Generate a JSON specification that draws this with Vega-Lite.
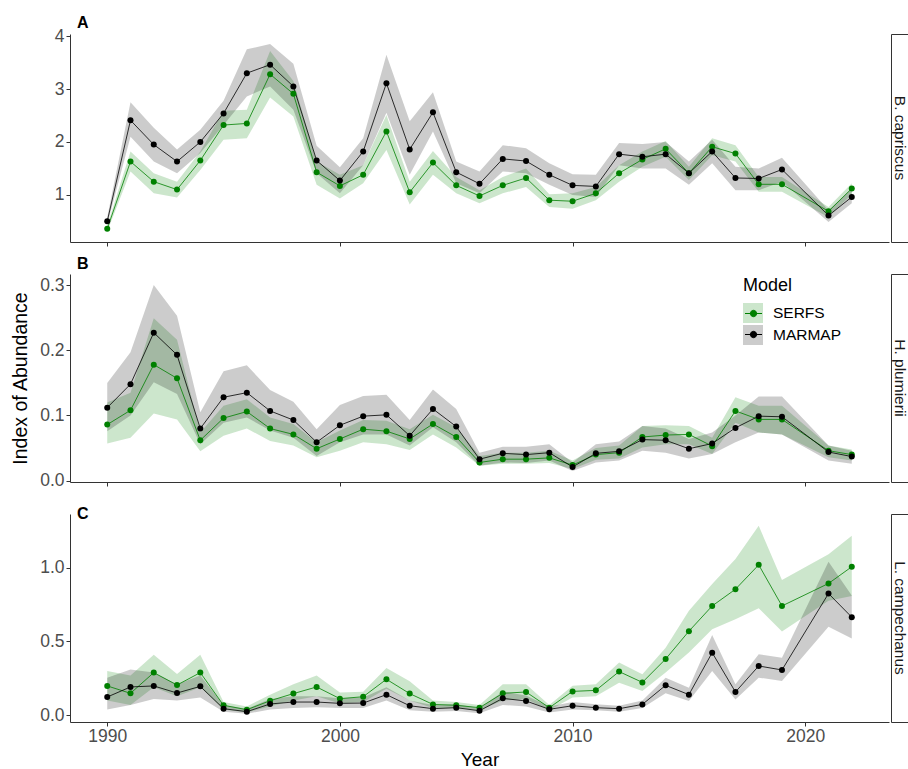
{
  "$schema": "https://vega.github.io/schema/vega-lite/v6.json",
  "background": "white",
  "padding": {"left": 10, "top": 15, "right": 0, "bottom": 0},
  "config": {
    "font": "Liberation Sans",
    "view": {"stroke": null},
    "axis": {
      "grid": false,
      "domainColor": "#333333",
      "tickColor": "#333333",
      "tickSize": 4,
      "labelFontSize": 17.5,
      "labelColor": "#4d4d4d",
      "labelPadding": 2,
      "titleFontSize": 19.5,
      "titleFontWeight": "normal",
      "titleColor": "#000000"
    },
    "title": {"anchor": "start", "frame": "group", "fontSize": 16, "fontWeight": "bold", "color": "#000000", "offset": 4, "dx": 7},
    "legend": {"labelFontSize": 15.5, "labelColor": "#000000", "titleFontSize": 18, "titleFontWeight": "normal", "titleColor": "#000000"}
  },
  "datasets": {
    "idx": [
      {"p":"A","yr":1990,"m":"SERFS","v":0.36,"lo":0.31,"hi":0.42},
      {"p":"A","yr":1991,"m":"SERFS","v":1.63,"lo":1.44,"hi":1.82},
      {"p":"A","yr":1992,"m":"SERFS","v":1.25,"lo":1.03,"hi":1.41},
      {"p":"A","yr":1993,"m":"SERFS","v":1.10,"lo":0.95,"hi":1.25},
      {"p":"A","yr":1994,"m":"SERFS","v":1.65,"lo":1.47,"hi":1.82},
      {"p":"A","yr":1995,"m":"SERFS","v":2.32,"lo":2.04,"hi":2.59},
      {"p":"A","yr":1996,"m":"SERFS","v":2.35,"lo":2.07,"hi":2.61},
      {"p":"A","yr":1997,"m":"SERFS","v":3.28,"lo":2.84,"hi":3.72},
      {"p":"A","yr":1998,"m":"SERFS","v":2.91,"lo":2.48,"hi":3.15},
      {"p":"A","yr":1999,"m":"SERFS","v":1.43,"lo":1.19,"hi":1.63},
      {"p":"A","yr":2000,"m":"SERFS","v":1.17,"lo":0.93,"hi":1.38},
      {"p":"A","yr":2001,"m":"SERFS","v":1.38,"lo":1.22,"hi":1.56},
      {"p":"A","yr":2002,"m":"SERFS","v":2.20,"lo":1.85,"hi":2.51},
      {"p":"A","yr":2003,"m":"SERFS","v":1.05,"lo":0.82,"hi":1.25},
      {"p":"A","yr":2004,"m":"SERFS","v":1.61,"lo":1.38,"hi":1.83},
      {"p":"A","yr":2005,"m":"SERFS","v":1.18,"lo":1.03,"hi":1.34},
      {"p":"A","yr":2006,"m":"SERFS","v":0.98,"lo":0.84,"hi":1.09},
      {"p":"A","yr":2007,"m":"SERFS","v":1.18,"lo":1.03,"hi":1.34},
      {"p":"A","yr":2008,"m":"SERFS","v":1.32,"lo":1.15,"hi":1.50},
      {"p":"A","yr":2009,"m":"SERFS","v":0.90,"lo":0.77,"hi":1.01},
      {"p":"A","yr":2010,"m":"SERFS","v":0.88,"lo":0.74,"hi":1.03},
      {"p":"A","yr":2011,"m":"SERFS","v":1.03,"lo":0.90,"hi":1.15},
      {"p":"A","yr":2012,"m":"SERFS","v":1.41,"lo":1.25,"hi":1.56},
      {"p":"A","yr":2013,"m":"SERFS","v":1.67,"lo":1.53,"hi":1.82},
      {"p":"A","yr":2014,"m":"SERFS","v":1.87,"lo":1.72,"hi":2.02},
      {"p":"A","yr":2015,"m":"SERFS","v":1.41,"lo":1.28,"hi":1.53},
      {"p":"A","yr":2016,"m":"SERFS","v":1.91,"lo":1.75,"hi":2.07},
      {"p":"A","yr":2017,"m":"SERFS","v":1.78,"lo":1.63,"hi":1.94},
      {"p":"A","yr":2018,"m":"SERFS","v":1.20,"lo":1.06,"hi":1.34},
      {"p":"A","yr":2019,"m":"SERFS","v":1.20,"lo":1.06,"hi":1.34},
      {"p":"A","yr":2021,"m":"SERFS","v":0.69,"lo":0.58,"hi":0.77},
      {"p":"A","yr":2022,"m":"SERFS","v":1.12,"lo":1.01,"hi":1.22},
      {"p":"A","yr":1990,"m":"MARMAP","v":0.50,"lo":0.44,"hi":0.58},
      {"p":"A","yr":1991,"m":"MARMAP","v":2.41,"lo":2.10,"hi":2.75},
      {"p":"A","yr":1992,"m":"MARMAP","v":1.95,"lo":1.63,"hi":2.27},
      {"p":"A","yr":1993,"m":"MARMAP","v":1.63,"lo":1.41,"hi":1.86},
      {"p":"A","yr":1994,"m":"MARMAP","v":2.00,"lo":1.79,"hi":2.23},
      {"p":"A","yr":1995,"m":"MARMAP","v":2.54,"lo":2.32,"hi":2.78},
      {"p":"A","yr":1996,"m":"MARMAP","v":3.30,"lo":2.86,"hi":3.75},
      {"p":"A","yr":1997,"m":"MARMAP","v":3.46,"lo":3.05,"hi":3.85},
      {"p":"A","yr":1998,"m":"MARMAP","v":3.05,"lo":2.61,"hi":3.48},
      {"p":"A","yr":1999,"m":"MARMAP","v":1.65,"lo":1.41,"hi":1.93},
      {"p":"A","yr":2000,"m":"MARMAP","v":1.27,"lo":1.03,"hi":1.52},
      {"p":"A","yr":2001,"m":"MARMAP","v":1.82,"lo":1.56,"hi":2.07},
      {"p":"A","yr":2002,"m":"MARMAP","v":3.11,"lo":2.55,"hi":3.65},
      {"p":"A","yr":2003,"m":"MARMAP","v":1.86,"lo":1.38,"hi":2.39},
      {"p":"A","yr":2004,"m":"MARMAP","v":2.56,"lo":2.20,"hi":2.94},
      {"p":"A","yr":2005,"m":"MARMAP","v":1.43,"lo":1.22,"hi":1.63},
      {"p":"A","yr":2006,"m":"MARMAP","v":1.21,"lo":1.03,"hi":1.44},
      {"p":"A","yr":2007,"m":"MARMAP","v":1.68,"lo":1.44,"hi":1.94},
      {"p":"A","yr":2008,"m":"MARMAP","v":1.64,"lo":1.41,"hi":1.88},
      {"p":"A","yr":2009,"m":"MARMAP","v":1.38,"lo":1.19,"hi":1.60},
      {"p":"A","yr":2010,"m":"MARMAP","v":1.18,"lo":1.00,"hi":1.39},
      {"p":"A","yr":2011,"m":"MARMAP","v":1.16,"lo":0.96,"hi":1.38},
      {"p":"A","yr":2012,"m":"MARMAP","v":1.77,"lo":1.56,"hi":1.98},
      {"p":"A","yr":2013,"m":"MARMAP","v":1.72,"lo":1.50,"hi":1.96},
      {"p":"A","yr":2014,"m":"MARMAP","v":1.77,"lo":1.50,"hi":2.00},
      {"p":"A","yr":2015,"m":"MARMAP","v":1.41,"lo":1.19,"hi":1.63},
      {"p":"A","yr":2016,"m":"MARMAP","v":1.82,"lo":1.60,"hi":2.04},
      {"p":"A","yr":2017,"m":"MARMAP","v":1.32,"lo":1.09,"hi":1.53},
      {"p":"A","yr":2018,"m":"MARMAP","v":1.31,"lo":1.09,"hi":1.50},
      {"p":"A","yr":2019,"m":"MARMAP","v":1.48,"lo":1.25,"hi":1.70},
      {"p":"A","yr":2021,"m":"MARMAP","v":0.61,"lo":0.49,"hi":0.71},
      {"p":"A","yr":2022,"m":"MARMAP","v":0.96,"lo":0.84,"hi":1.12},
      {"p":"B","yr":1990,"m":"SERFS","v":0.086,"lo":0.057,"hi":0.120},
      {"p":"B","yr":1991,"m":"SERFS","v":0.108,"lo":0.066,"hi":0.135},
      {"p":"B","yr":1992,"m":"SERFS","v":0.178,"lo":0.103,"hi":0.249},
      {"p":"B","yr":1993,"m":"SERFS","v":0.157,"lo":0.094,"hi":0.216},
      {"p":"B","yr":1994,"m":"SERFS","v":0.062,"lo":0.045,"hi":0.074},
      {"p":"B","yr":1995,"m":"SERFS","v":0.096,"lo":0.069,"hi":0.115},
      {"p":"B","yr":1996,"m":"SERFS","v":0.106,"lo":0.080,"hi":0.125},
      {"p":"B","yr":1997,"m":"SERFS","v":0.080,"lo":0.061,"hi":0.097},
      {"p":"B","yr":1998,"m":"SERFS","v":0.071,"lo":0.054,"hi":0.087},
      {"p":"B","yr":1999,"m":"SERFS","v":0.049,"lo":0.036,"hi":0.059},
      {"p":"B","yr":2000,"m":"SERFS","v":0.064,"lo":0.046,"hi":0.077},
      {"p":"B","yr":2001,"m":"SERFS","v":0.079,"lo":0.059,"hi":0.093},
      {"p":"B","yr":2002,"m":"SERFS","v":0.076,"lo":0.056,"hi":0.092},
      {"p":"B","yr":2003,"m":"SERFS","v":0.064,"lo":0.047,"hi":0.079},
      {"p":"B","yr":2004,"m":"SERFS","v":0.087,"lo":0.071,"hi":0.101},
      {"p":"B","yr":2005,"m":"SERFS","v":0.067,"lo":0.051,"hi":0.082},
      {"p":"B","yr":2006,"m":"SERFS","v":0.028,"lo":0.023,"hi":0.038},
      {"p":"B","yr":2007,"m":"SERFS","v":0.033,"lo":0.026,"hi":0.043},
      {"p":"B","yr":2008,"m":"SERFS","v":0.033,"lo":0.026,"hi":0.043},
      {"p":"B","yr":2009,"m":"SERFS","v":0.035,"lo":0.027,"hi":0.046},
      {"p":"B","yr":2010,"m":"SERFS","v":0.024,"lo":0.018,"hi":0.031},
      {"p":"B","yr":2011,"m":"SERFS","v":0.040,"lo":0.032,"hi":0.050},
      {"p":"B","yr":2012,"m":"SERFS","v":0.043,"lo":0.034,"hi":0.054},
      {"p":"B","yr":2013,"m":"SERFS","v":0.067,"lo":0.051,"hi":0.084},
      {"p":"B","yr":2014,"m":"SERFS","v":0.070,"lo":0.056,"hi":0.085},
      {"p":"B","yr":2015,"m":"SERFS","v":0.071,"lo":0.056,"hi":0.084},
      {"p":"B","yr":2016,"m":"SERFS","v":0.053,"lo":0.041,"hi":0.066},
      {"p":"B","yr":2017,"m":"SERFS","v":0.107,"lo":0.089,"hi":0.128},
      {"p":"B","yr":2018,"m":"SERFS","v":0.094,"lo":0.074,"hi":0.115},
      {"p":"B","yr":2019,"m":"SERFS","v":0.094,"lo":0.071,"hi":0.115},
      {"p":"B","yr":2021,"m":"SERFS","v":0.046,"lo":0.036,"hi":0.054},
      {"p":"B","yr":2022,"m":"SERFS","v":0.040,"lo":0.031,"hi":0.048},
      {"p":"B","yr":1990,"m":"MARMAP","v":0.112,"lo":0.076,"hi":0.150},
      {"p":"B","yr":1991,"m":"MARMAP","v":0.148,"lo":0.100,"hi":0.197},
      {"p":"B","yr":1992,"m":"MARMAP","v":0.227,"lo":0.151,"hi":0.300},
      {"p":"B","yr":1993,"m":"MARMAP","v":0.193,"lo":0.133,"hi":0.253},
      {"p":"B","yr":1994,"m":"MARMAP","v":0.080,"lo":0.056,"hi":0.105},
      {"p":"B","yr":1995,"m":"MARMAP","v":0.128,"lo":0.089,"hi":0.168},
      {"p":"B","yr":1996,"m":"MARMAP","v":0.135,"lo":0.097,"hi":0.177},
      {"p":"B","yr":1997,"m":"MARMAP","v":0.107,"lo":0.077,"hi":0.139},
      {"p":"B","yr":1998,"m":"MARMAP","v":0.093,"lo":0.066,"hi":0.121},
      {"p":"B","yr":1999,"m":"MARMAP","v":0.059,"lo":0.038,"hi":0.079},
      {"p":"B","yr":2000,"m":"MARMAP","v":0.085,"lo":0.059,"hi":0.116},
      {"p":"B","yr":2001,"m":"MARMAP","v":0.099,"lo":0.071,"hi":0.130},
      {"p":"B","yr":2002,"m":"MARMAP","v":0.101,"lo":0.071,"hi":0.132},
      {"p":"B","yr":2003,"m":"MARMAP","v":0.069,"lo":0.054,"hi":0.093},
      {"p":"B","yr":2004,"m":"MARMAP","v":0.110,"lo":0.082,"hi":0.140},
      {"p":"B","yr":2005,"m":"MARMAP","v":0.083,"lo":0.059,"hi":0.110},
      {"p":"B","yr":2006,"m":"MARMAP","v":0.033,"lo":0.023,"hi":0.043},
      {"p":"B","yr":2007,"m":"MARMAP","v":0.042,"lo":0.028,"hi":0.052},
      {"p":"B","yr":2008,"m":"MARMAP","v":0.040,"lo":0.027,"hi":0.052},
      {"p":"B","yr":2009,"m":"MARMAP","v":0.043,"lo":0.031,"hi":0.056},
      {"p":"B","yr":2010,"m":"MARMAP","v":0.021,"lo":0.015,"hi":0.028},
      {"p":"B","yr":2011,"m":"MARMAP","v":0.042,"lo":0.028,"hi":0.056},
      {"p":"B","yr":2012,"m":"MARMAP","v":0.045,"lo":0.031,"hi":0.060},
      {"p":"B","yr":2013,"m":"MARMAP","v":0.063,"lo":0.046,"hi":0.084},
      {"p":"B","yr":2014,"m":"MARMAP","v":0.062,"lo":0.043,"hi":0.080},
      {"p":"B","yr":2015,"m":"MARMAP","v":0.049,"lo":0.034,"hi":0.064},
      {"p":"B","yr":2016,"m":"MARMAP","v":0.057,"lo":0.041,"hi":0.074},
      {"p":"B","yr":2017,"m":"MARMAP","v":0.081,"lo":0.059,"hi":0.100},
      {"p":"B","yr":2018,"m":"MARMAP","v":0.099,"lo":0.074,"hi":0.129},
      {"p":"B","yr":2019,"m":"MARMAP","v":0.098,"lo":0.071,"hi":0.129},
      {"p":"B","yr":2021,"m":"MARMAP","v":0.044,"lo":0.031,"hi":0.054},
      {"p":"B","yr":2022,"m":"MARMAP","v":0.037,"lo":0.026,"hi":0.046},
      {"p":"C","yr":1990,"m":"SERFS","v":0.199,"lo":0.10,"hi":0.30},
      {"p":"C","yr":1991,"m":"SERFS","v":0.149,"lo":0.07,"hi":0.27},
      {"p":"C","yr":1992,"m":"SERFS","v":0.289,"lo":0.19,"hi":0.41},
      {"p":"C","yr":1993,"m":"SERFS","v":0.205,"lo":0.13,"hi":0.28},
      {"p":"C","yr":1994,"m":"SERFS","v":0.289,"lo":0.19,"hi":0.41},
      {"p":"C","yr":1995,"m":"SERFS","v":0.068,"lo":0.04,"hi":0.09},
      {"p":"C","yr":1996,"m":"SERFS","v":0.038,"lo":0.02,"hi":0.06},
      {"p":"C","yr":1997,"m":"SERFS","v":0.099,"lo":0.06,"hi":0.14},
      {"p":"C","yr":1998,"m":"SERFS","v":0.147,"lo":0.10,"hi":0.21},
      {"p":"C","yr":1999,"m":"SERFS","v":0.192,"lo":0.13,"hi":0.27},
      {"p":"C","yr":2000,"m":"SERFS","v":0.113,"lo":0.08,"hi":0.155},
      {"p":"C","yr":2001,"m":"SERFS","v":0.126,"lo":0.09,"hi":0.16},
      {"p":"C","yr":2002,"m":"SERFS","v":0.244,"lo":0.18,"hi":0.32},
      {"p":"C","yr":2003,"m":"SERFS","v":0.147,"lo":0.10,"hi":0.23},
      {"p":"C","yr":2004,"m":"SERFS","v":0.074,"lo":0.05,"hi":0.10},
      {"p":"C","yr":2005,"m":"SERFS","v":0.068,"lo":0.05,"hi":0.09},
      {"p":"C","yr":2006,"m":"SERFS","v":0.052,"lo":0.035,"hi":0.07},
      {"p":"C","yr":2007,"m":"SERFS","v":0.149,"lo":0.10,"hi":0.21},
      {"p":"C","yr":2008,"m":"SERFS","v":0.158,"lo":0.11,"hi":0.21},
      {"p":"C","yr":2009,"m":"SERFS","v":0.052,"lo":0.035,"hi":0.07},
      {"p":"C","yr":2010,"m":"SERFS","v":0.162,"lo":0.12,"hi":0.20},
      {"p":"C","yr":2011,"m":"SERFS","v":0.169,"lo":0.13,"hi":0.21},
      {"p":"C","yr":2012,"m":"SERFS","v":0.296,"lo":0.22,"hi":0.357},
      {"p":"C","yr":2013,"m":"SERFS","v":0.223,"lo":0.165,"hi":0.278},
      {"p":"C","yr":2014,"m":"SERFS","v":0.381,"lo":0.289,"hi":0.458},
      {"p":"C","yr":2015,"m":"SERFS","v":0.569,"lo":0.425,"hi":0.707},
      {"p":"C","yr":2016,"m":"SERFS","v":0.740,"lo":0.583,"hi":0.888},
      {"p":"C","yr":2017,"m":"SERFS","v":0.853,"lo":0.650,"hi":1.057},
      {"p":"C","yr":2018,"m":"SERFS","v":1.018,"lo":0.725,"hi":1.283},
      {"p":"C","yr":2019,"m":"SERFS","v":0.740,"lo":0.567,"hi":0.915},
      {"p":"C","yr":2021,"m":"SERFS","v":0.892,"lo":0.775,"hi":1.09},
      {"p":"C","yr":2022,"m":"SERFS","v":1.005,"lo":0.808,"hi":1.215},
      {"p":"C","yr":1990,"m":"MARMAP","v":0.124,"lo":0.04,"hi":0.255},
      {"p":"C","yr":1991,"m":"MARMAP","v":0.192,"lo":0.07,"hi":0.31},
      {"p":"C","yr":1992,"m":"MARMAP","v":0.199,"lo":0.11,"hi":0.29},
      {"p":"C","yr":1993,"m":"MARMAP","v":0.151,"lo":0.10,"hi":0.21},
      {"p":"C","yr":1994,"m":"MARMAP","v":0.196,"lo":0.12,"hi":0.27},
      {"p":"C","yr":1995,"m":"MARMAP","v":0.045,"lo":0.025,"hi":0.07},
      {"p":"C","yr":1996,"m":"MARMAP","v":0.025,"lo":0.01,"hi":0.045},
      {"p":"C","yr":1997,"m":"MARMAP","v":0.077,"lo":0.04,"hi":0.11},
      {"p":"C","yr":1998,"m":"MARMAP","v":0.090,"lo":0.05,"hi":0.13},
      {"p":"C","yr":1999,"m":"MARMAP","v":0.090,"lo":0.055,"hi":0.13},
      {"p":"C","yr":2000,"m":"MARMAP","v":0.081,"lo":0.05,"hi":0.115},
      {"p":"C","yr":2001,"m":"MARMAP","v":0.083,"lo":0.05,"hi":0.12},
      {"p":"C","yr":2002,"m":"MARMAP","v":0.140,"lo":0.10,"hi":0.19},
      {"p":"C","yr":2003,"m":"MARMAP","v":0.065,"lo":0.035,"hi":0.10},
      {"p":"C","yr":2004,"m":"MARMAP","v":0.045,"lo":0.025,"hi":0.07},
      {"p":"C","yr":2005,"m":"MARMAP","v":0.052,"lo":0.03,"hi":0.075},
      {"p":"C","yr":2006,"m":"MARMAP","v":0.031,"lo":0.015,"hi":0.05},
      {"p":"C","yr":2007,"m":"MARMAP","v":0.115,"lo":0.07,"hi":0.16},
      {"p":"C","yr":2008,"m":"MARMAP","v":0.097,"lo":0.06,"hi":0.135},
      {"p":"C","yr":2009,"m":"MARMAP","v":0.041,"lo":0.02,"hi":0.06},
      {"p":"C","yr":2010,"m":"MARMAP","v":0.065,"lo":0.04,"hi":0.09},
      {"p":"C","yr":2011,"m":"MARMAP","v":0.052,"lo":0.035,"hi":0.075},
      {"p":"C","yr":2012,"m":"MARMAP","v":0.045,"lo":0.025,"hi":0.065},
      {"p":"C","yr":2013,"m":"MARMAP","v":0.074,"lo":0.05,"hi":0.10},
      {"p":"C","yr":2014,"m":"MARMAP","v":0.203,"lo":0.149,"hi":0.255},
      {"p":"C","yr":2015,"m":"MARMAP","v":0.140,"lo":0.097,"hi":0.187},
      {"p":"C","yr":2016,"m":"MARMAP","v":0.424,"lo":0.300,"hi":0.544},
      {"p":"C","yr":2017,"m":"MARMAP","v":0.158,"lo":0.108,"hi":0.21},
      {"p":"C","yr":2018,"m":"MARMAP","v":0.334,"lo":0.255,"hi":0.413},
      {"p":"C","yr":2019,"m":"MARMAP","v":0.307,"lo":0.233,"hi":0.39},
      {"p":"C","yr":2021,"m":"MARMAP","v":0.824,"lo":0.60,"hi":1.039},
      {"p":"C","yr":2022,"m":"MARMAP","v":0.664,"lo":0.52,"hi":0.81}
    ],
    "strips": [
      {"p":"A","sp":"B. capriscus"},
      {"p":"B","sp":"H. plumierii"},
      {"p":"C","sp":"L. campechanus"}
    ]
  },
  "columns": 2,
  "spacing": {"row": 32, "column": 2},
  "bounds": "flush",
  "concat": [
    {
      "width": 819, "height": 208,
      "title": {"text": "A", "dy": 8},
      "data": {"name": "idx"},
      "transform": [{"filter": "datum.p == 'A'"}],
      "encoding": {
        "x": {"field": "yr", "type": "quantitative", "scale": {"domain": [1988.4, 2023.6], "nice": false, "zero": false}, "axis": {"values": [1990, 2000, 2010, 2020], "labels": false, "title": null}}
      },
      "layer": [
        {
          "mark": {"type": "area", "opacity": 0.2},
          "encoding": {
            "y": {"field": "lo", "type": "quantitative", "scale": {"domain": [0.11, 4.04], "nice": false, "zero": false}, "axis": {"values": [1, 2, 3, 4], "format": "d", "title": null}},
            "y2": {"field": "hi"},
            "fill": {"field": "m", "type": "nominal", "scale": {"domain": ["SERFS", "MARMAP"], "range": ["#008000", "#000000"]}}
          }
        },
        {
          "mark": {"type": "line", "strokeWidth": 0.8},
          "encoding": {
            "y": {"field": "v", "type": "quantitative", "axis": {"values": [1, 2, 3, 4], "format": "d", "title": null}},
            "color": {"field": "m", "type": "nominal", "sort": ["SERFS", "MARMAP"], "scale": {"range": ["#008000", "#000000"]}}
          }
        },
        {
          "mark": {"type": "point", "filled": true, "size": 36, "opacity": 1},
          "encoding": {
            "y": {"field": "v", "type": "quantitative", "axis": {"values": [1, 2, 3, 4], "format": "d", "title": null}},
            "color": {"field": "m", "type": "nominal", "sort": ["SERFS", "MARMAP"], "scale": {"range": ["#008000", "#000000"]}}
          }
        }
      ]
    },
    {
      "width": 18, "height": 208,
      "view": {"stroke": "#333333", "strokeWidth": 1, "fill": "white"},
      "data": {"name": "strips"},
      "transform": [{"filter": "datum.p == 'A'"}],
      "mark": {"type": "text", "angle": 90, "fontSize": 15.5, "color": "#1a1a1a"},
      "encoding": {"text": {"field": "sp", "type": "nominal"}}
    },
    {
      "width": 819, "height": 208,
      "title": {"text": "B", "dy": 2},
      "data": {"name": "idx"},
      "transform": [{"filter": "datum.p == 'B'"}],
      "encoding": {
        "x": {"field": "yr", "type": "quantitative", "scale": {"domain": [1988.4, 2023.6], "nice": false, "zero": false}, "axis": {"values": [1990, 2000, 2010, 2020], "labels": false, "title": null}}
      },
      "layer": [
        {
          "mark": {"type": "area", "opacity": 0.2},
          "encoding": {
            "y": {"field": "lo", "type": "quantitative", "scale": {"domain": [-0.002, 0.317], "nice": false, "zero": false}, "axis": {"values": [0, 0.1, 0.2, 0.3], "format": ".1f", "title": "Index of Abundance", "titlePadding": 9}},
            "y2": {"field": "hi"},
            "fill": {
              "field": "m", "type": "nominal",
              "scale": {"domain": ["SERFS", "MARMAP"], "range": ["#008000", "#000000"]},
              "legend": {"orient": "none", "legendX": 673, "legendY": 243, "title": "Model", "padding": 0, "titlePadding": 8, "symbolType": "square", "symbolSize": 400, "symbolOpacity": 0.2, "symbolStrokeWidth": 0, "labelOffset": 10, "rowPadding": 2}
            }
          }
        },
        {
          "mark": {"type": "line", "strokeWidth": 0.8},
          "encoding": {
            "y": {"field": "v", "type": "quantitative", "axis": {"values": [0, 0.1, 0.2, 0.3], "format": ".1f", "title": "Index of Abundance", "titlePadding": 9}},
            "color": {
              "field": "m", "type": "nominal", "sort": ["SERFS", "MARMAP"],
              "scale": {"range": ["#008000", "#000000"]},
              "legend": {"orient": "none", "legendX": 673, "legendY": 243, "title": "Model", "padding": 0, "titlePadding": 8, "titleOpacity": 0, "labelOpacity": 0, "symbolType": "M-0.85,0H0.85M0.32,0A0.32,0.32,0,1,1,-0.32,0A0.32,0.32,0,1,1,0.32,0Z", "symbolSize": 400, "symbolStrokeWidth": 1, "symbolOpacity": 1, "labelOffset": 10, "rowPadding": 2,
                "encode": {"symbols": {"update": {"fill": {"scale": "color", "field": "value"}, "stroke": {"scale": "color", "field": "value"}}}}}
            }
          }
        },
        {
          "mark": {"type": "point", "filled": true, "size": 36, "opacity": 1},
          "encoding": {
            "y": {"field": "v", "type": "quantitative", "axis": {"values": [0, 0.1, 0.2, 0.3], "format": ".1f", "title": "Index of Abundance", "titlePadding": 9}},
            "color": {"field": "m", "type": "nominal", "sort": ["SERFS", "MARMAP"], "scale": {"range": ["#008000", "#000000"]}}
          }
        }
      ]
    },
    {
      "width": 18, "height": 208,
      "view": {"stroke": "#333333", "strokeWidth": 1, "fill": "white"},
      "data": {"name": "strips"},
      "transform": [{"filter": "datum.p == 'B'"}],
      "mark": {"type": "text", "angle": 90, "fontSize": 15.5, "color": "#1a1a1a"},
      "encoding": {"text": {"field": "sp", "type": "nominal"}}
    },
    {
      "width": 819, "height": 208,
      "title": {"text": "C", "dy": 12},
      "data": {"name": "idx"},
      "transform": [{"filter": "datum.p == 'C'"}],
      "encoding": {
        "x": {"field": "yr", "type": "quantitative", "scale": {"domain": [1988.4, 2023.6], "nice": false, "zero": false}, "axis": {"values": [1990, 2000, 2010, 2020], "format": "d", "title": "Year", "labelPadding": 1, "titlePadding": 5.5, "titleFontSize": 19}}
      },
      "layer": [
        {
          "mark": {"type": "area", "opacity": 0.2},
          "encoding": {
            "y": {"field": "lo", "type": "quantitative", "scale": {"domain": [-0.045, 1.362], "nice": false, "zero": false}, "axis": {"values": [0, 0.5, 1], "format": ".1f", "title": null}},
            "y2": {"field": "hi"},
            "fill": {"field": "m", "type": "nominal", "scale": {"domain": ["SERFS", "MARMAP"], "range": ["#008000", "#000000"]}}
          }
        },
        {
          "mark": {"type": "line", "strokeWidth": 0.8},
          "encoding": {
            "y": {"field": "v", "type": "quantitative", "axis": {"values": [0, 0.5, 1], "format": ".1f", "title": null}},
            "color": {"field": "m", "type": "nominal", "sort": ["SERFS", "MARMAP"], "scale": {"range": ["#008000", "#000000"]}}
          }
        },
        {
          "mark": {"type": "point", "filled": true, "size": 36, "opacity": 1},
          "encoding": {
            "y": {"field": "v", "type": "quantitative", "axis": {"values": [0, 0.5, 1], "format": ".1f", "title": null}},
            "color": {"field": "m", "type": "nominal", "sort": ["SERFS", "MARMAP"], "scale": {"range": ["#008000", "#000000"]}}
          }
        }
      ]
    },
    {
      "width": 18, "height": 208,
      "view": {"stroke": "#333333", "strokeWidth": 1, "fill": "white"},
      "data": {"name": "strips"},
      "transform": [{"filter": "datum.p == 'C'"}],
      "mark": {"type": "text", "angle": 90, "fontSize": 15.5, "color": "#1a1a1a"},
      "encoding": {"text": {"field": "sp", "type": "nominal"}}
    }
  ]
}
